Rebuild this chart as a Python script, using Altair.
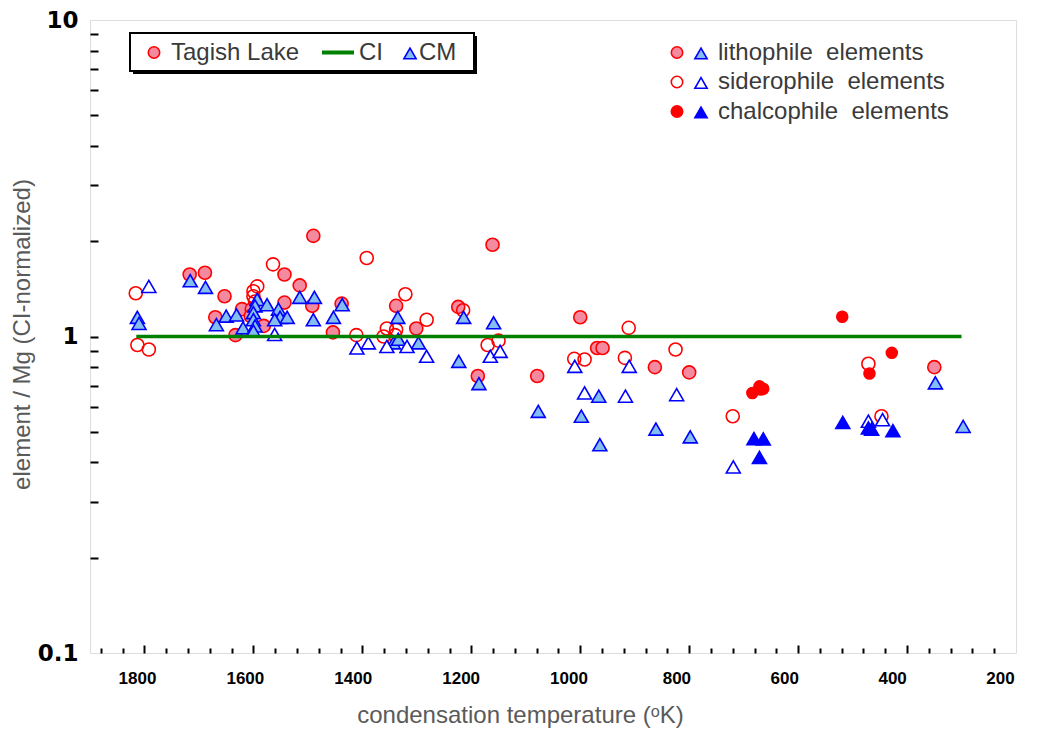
import altair as alt
import pandas as pd

# ---------------- data ----------------
# Tagish Lake
tl_lith_T = [1717, 1689, 1653, 1670, 1633, 1621, 1603, 1605, 1581, 1543, 1543, 1515, 1490, 1492,
             1454, 1438, 1338, 1301, 1224, 1161, 1188, 1000, 1079, 969, 959, 863, 800, 350]
tl_lith_v = [1.57, 1.59, 1.34, 1.15, 1.01, 1.22, 1.22, 1.16, 1.08, 1.57, 1.28, 1.45, 2.08, 1.25,
             1.03, 1.27, 1.25, 1.06, 1.24, 1.95, 0.75, 1.15, 0.75, 0.92, 0.92, 0.80, 0.77, 0.80]

tl_sid_T = [1816, 1813, 1792, 1593, 1600, 1600, 1597, 1564, 1392, 1411, 1321, 1355, 1361, 1338,
            1340, 1282, 1215, 1170, 1150, 911, 1011, 992, 918, 825, 720, 471, 447]
tl_sid_v = [1.37, 0.94, 0.91, 1.44, 1.39, 1.34, 1.29, 1.69, 1.77, 1.01, 1.36, 1.06, 1.00, 1.05,
            1.01, 1.13, 1.21, 0.94, 0.97, 1.065, 0.85, 0.846, 0.856, 0.91, 0.56, 0.82, 0.56]

tl_chal_T = [684, 671, 668, 664, 519, 428, 469]
tl_chal_v = [0.663, 0.696, 0.68, 0.684, 1.154, 0.888, 0.764]

# CM
cm_lith_T = [1813, 1810, 1716, 1688, 1668, 1650, 1631, 1619, 1593, 1597, 1600, 1600, 1597, 1600,
             1575, 1554, 1551, 1538, 1561, 1515, 1488, 1490, 1453, 1437, 1335, 1343, 1334, 1297,
             1214, 1159, 1223, 1186, 1077, 966, 998, 964, 861, 798, 348, 297]
cm_lith_v = [1.15, 1.10, 1.50, 1.43, 1.09, 1.16, 1.17, 1.065, 1.31, 1.25, 1.19, 1.13, 1.08, 1.04,
             1.26, 1.22, 1.15, 1.15, 1.13, 1.33, 1.33, 1.13, 1.15, 1.26, 1.15, 0.955, 0.98, 0.955,
             1.15, 1.105, 0.835, 0.71, 0.58, 0.648, 0.56, 0.455, 0.51, 0.482, 0.714, 0.52]

cm_sid_T = [1792, 1561, 1410, 1389, 1355, 1318, 1282, 1165, 1147, 1010, 910, 992, 917, 823, 719, 471, 445]
cm_sid_v = [1.44, 1.015, 0.92, 0.955, 0.93, 0.93, 0.866, 0.866, 0.898, 0.805, 0.805, 0.663, 0.648,
            0.655, 0.387, 0.54, 0.546]

cm_chal_T = [681, 664, 671, 518, 471, 465, 426]
cm_chal_v = [0.476, 0.475, 0.415, 0.535, 0.514, 0.51, 0.504]

# CI reference line
ci_T = [1815, 300]
ci_v = [1.0, 1.0]

# axis ticks
x_label_vals = [1800, 1600, 1400, 1200, 1000, 800, 600, 400, 200]
x_major_ticks = [1800, 1600, 1400, 1200, 1000, 800, 600, 400]
x_minor_ticks = [t for t in range(1880, 200, -40) if t % 200 != 0]
y_label_vals = [0.1, 1, 10]
y_ticks = [0.2, 0.3, 0.4, 0.5, 0.6, 0.7, 0.8, 0.9, 1, 2, 3, 4, 5, 6, 7, 8, 9]

# legend texts
legend1_labels = ["Tagish Lake", "CI", "CM"]
legend2_labels = ["lithophile\u00a0\u00a0elements", "siderophile\u00a0\u00a0elements",
                  "chalcophile\u00a0\u00a0elements"]

# ---------------- styling ----------------
W, H = 926, 633
PINK = "#F48AA0"
LBLUE = "#84BEF0"
RED = "#FF0000"
BLUE = "#0000FF"
GREEN = "#008000"
FONT = "Liberation Sans"
TITLE_COLOR = "#5a5a5a"
TEXT_COLOR = "#3a3a3a"

xscale = alt.Scale(domain=[200, 1900], reverse=True, nice=False, zero=False)
# the printed tick labels in the reference sit on a slightly tighter spacing than the tick marks
xlabel_scale = alt.Scale(domain=[170.4, 1887.1], reverse=True, nice=False, zero=False)
yscale = alt.Scale(type="log", domain=[0.1, 10], nice=False)

ax_x_labels = alt.Axis(orient="bottom", values=x_label_vals, ticks=False, tickSize=0, domain=False,
                       grid=False, labelFont=FONT, labelFontWeight="bold", labelFontSize=17,
                       labelPadding=17, labelFlush=False, labelOverlap=False, format="d",
                       labelColor="black",
                       title="condensation temperature (\u1d52K)", titleFont=FONT, titleFontSize=24,
                       titleFontWeight="normal", titleColor=TITLE_COLOR, titleX=430, titleY=50)
ax_x_major = alt.Axis(orient="top", offset=-H, values=x_major_ticks, labels=False, domain=False,
                      grid=False, ticks=True, tickSize=8, tickWidth=2, tickColor="black", title=None)
ax_x_minor = alt.Axis(orient="top", offset=-H, values=x_minor_ticks, labels=False, domain=False,
                      grid=False, ticks=True, tickSize=5, tickWidth=2, tickColor="black", title=None)
ax_y_labels = alt.Axis(orient="left", values=y_label_vals, ticks=False, tickSize=0, domain=False,
                       grid=False, labelFont="DejaVu Sans", labelFontWeight="bold", labelFontSize=23,
                       labelPadding=12, labelColor="black", format="~g", labelOverlap=False,
                       title="element / Mg (CI-normalized)", titleFont=FONT, titleFontSize=24,
                       titleFontWeight="normal", titleColor=TITLE_COLOR, titleX=-56, titleY=314)
ax_y_ticks = alt.Axis(orient="right", offset=-W, values=y_ticks, labels=False, domain=False,
                      grid=False, ticks=True, tickSize=8, tickWidth=2, tickColor="black", title=None)


def df(T, v):
    return pd.DataFrame({"T": T, "v": v})


def pts(T, v, shape, fill, stroke, size, sw=1.6, xaxis=None, yaxis=None, fillOpacity=1.0):
    return alt.Chart(df(T, v)).mark_point(
        shape=shape, filled=True, fill=fill, fillOpacity=fillOpacity, stroke=stroke,
        strokeWidth=sw, size=size, opacity=1
    ).encode(
        x=alt.X("T:Q", scale=xscale, axis=xaxis),
        y=alt.Y("v:Q", scale=yscale, axis=yaxis),
    )


CIRC = 170
CHAL_C = 120
TRI = 195

layers = []
# invisible layer carrying the labelled axes
label_layer = alt.Chart(pd.DataFrame({"T": x_label_vals, "v": [1.0] * len(x_label_vals)})).mark_point(
    opacity=0).encode(
    x=alt.X("T:Q", scale=xlabel_scale, axis=ax_x_labels),
    y=alt.Y("v:Q", scale=yscale, axis=ax_y_labels),
)
layers.append(label_layer)
layers.append(pts(tl_lith_T, tl_lith_v, "circle", PINK, RED, CIRC, xaxis=ax_x_major, yaxis=ax_y_ticks))
layers.append(pts(tl_sid_T, tl_sid_v, "circle", "white", RED, CIRC, xaxis=ax_x_minor, fillOpacity=0))
layers.append(pts(tl_chal_T, tl_chal_v, "circle", RED, RED, CHAL_C))
layers.append(pts(cm_lith_T, cm_lith_v, "triangle-up", LBLUE, BLUE, TRI))
layers.append(pts(cm_sid_T, cm_sid_v, "triangle-up", "white", BLUE, TRI))
layers.append(pts(cm_chal_T, cm_chal_v, "triangle-up", BLUE, BLUE, TRI))

ci_line = alt.Chart(df(ci_T, ci_v)).mark_line(color=GREEN, strokeWidth=3.5).encode(
    x=alt.X("T:Q", scale=xscale, axis=None),
    y=alt.Y("v:Q", scale=yscale, axis=None),
)
layers.append(ci_line)

# ---------------- legends (drawn in pixel space) ----------------
one = pd.DataFrame({"a": [0]})

shadow = alt.Chart(one).mark_rect(fill="black").encode(
    x=alt.value(43), x2=alt.value(387), y=alt.value(16), y2=alt.value(54))
box = alt.Chart(one).mark_rect(fill="white", stroke="black", strokeWidth=2).encode(
    x=alt.value(40), x2=alt.value(384), y=alt.value(13), y2=alt.value(51))
layers += [shadow, box]

LY1 = 32.5


def sym(px, py, shape, fill, stroke, size, fillOpacity=1.0):
    return alt.Chart(one).mark_point(shape=shape, filled=True, fill=fill, fillOpacity=fillOpacity,
                                     stroke=stroke, strokeWidth=1.6, size=size, opacity=1).encode(
        x=alt.value(px), y=alt.value(py))


layers.append(sym(64, LY1, "circle", PINK, RED, 130))
layers.append(alt.Chart(one).mark_rule(color=GREEN, strokeWidth=4).encode(
    x=alt.value(232), x2=alt.value(264), y=alt.value(LY1)))
layers.append(sym(320, LY1 + 1, "triangle-up", LBLUE, BLUE, 150))

leg1_text = pd.DataFrame({"label": legend1_labels, "px": [81, 269, 329], "py": [LY1] * 3})
layers.append(alt.Chart(leg1_text).mark_text(align="left", baseline="middle", font=FONT,
                                             fontSize=24, color=TEXT_COLOR).encode(
    x=alt.X("px:Q", scale=None, axis=None), y=alt.Y("py:Q", scale=None, axis=None),
    text="label:N"))

rows = [32.5, 62.0, 91.5]
layers.append(sym(587, rows[0], "circle", PINK, RED, 130))
layers.append(sym(587, rows[1], "circle", "white", RED, 130, fillOpacity=0))
layers.append(sym(587, rows[2], "circle", RED, RED, 130))
layers.append(sym(611, rows[0] + 1, "triangle-up", LBLUE, BLUE, 150))
layers.append(sym(611, rows[1] + 1, "triangle-up", "white", BLUE, 150))
layers.append(sym(611, rows[2] + 1, "triangle-up", BLUE, BLUE, 150))

leg2_text = pd.DataFrame({"label": legend2_labels, "px": [628] * 3, "py": rows})
layers.append(alt.Chart(leg2_text).mark_text(align="left", baseline="middle", font=FONT,
                                             fontSize=24, color=TEXT_COLOR).encode(
    x=alt.X("px:Q", scale=None, axis=None), y=alt.Y("py:Q", scale=None, axis=None),
    text="label:N"))

chart = alt.layer(*layers).properties(
    width=W, height=H,
    autosize=alt.AutoSizeParams(type="none"),
    padding={"left": 82, "top": 12, "right": 10, "bottom": 80},
).resolve_scale(x="independent").resolve_axis(x="independent", y="independent").configure_view(
    stroke="black", strokeWidth=3
).configure(background="white")

chart.save("out.html", embed_options={"renderer": "svg", "actions": False})
